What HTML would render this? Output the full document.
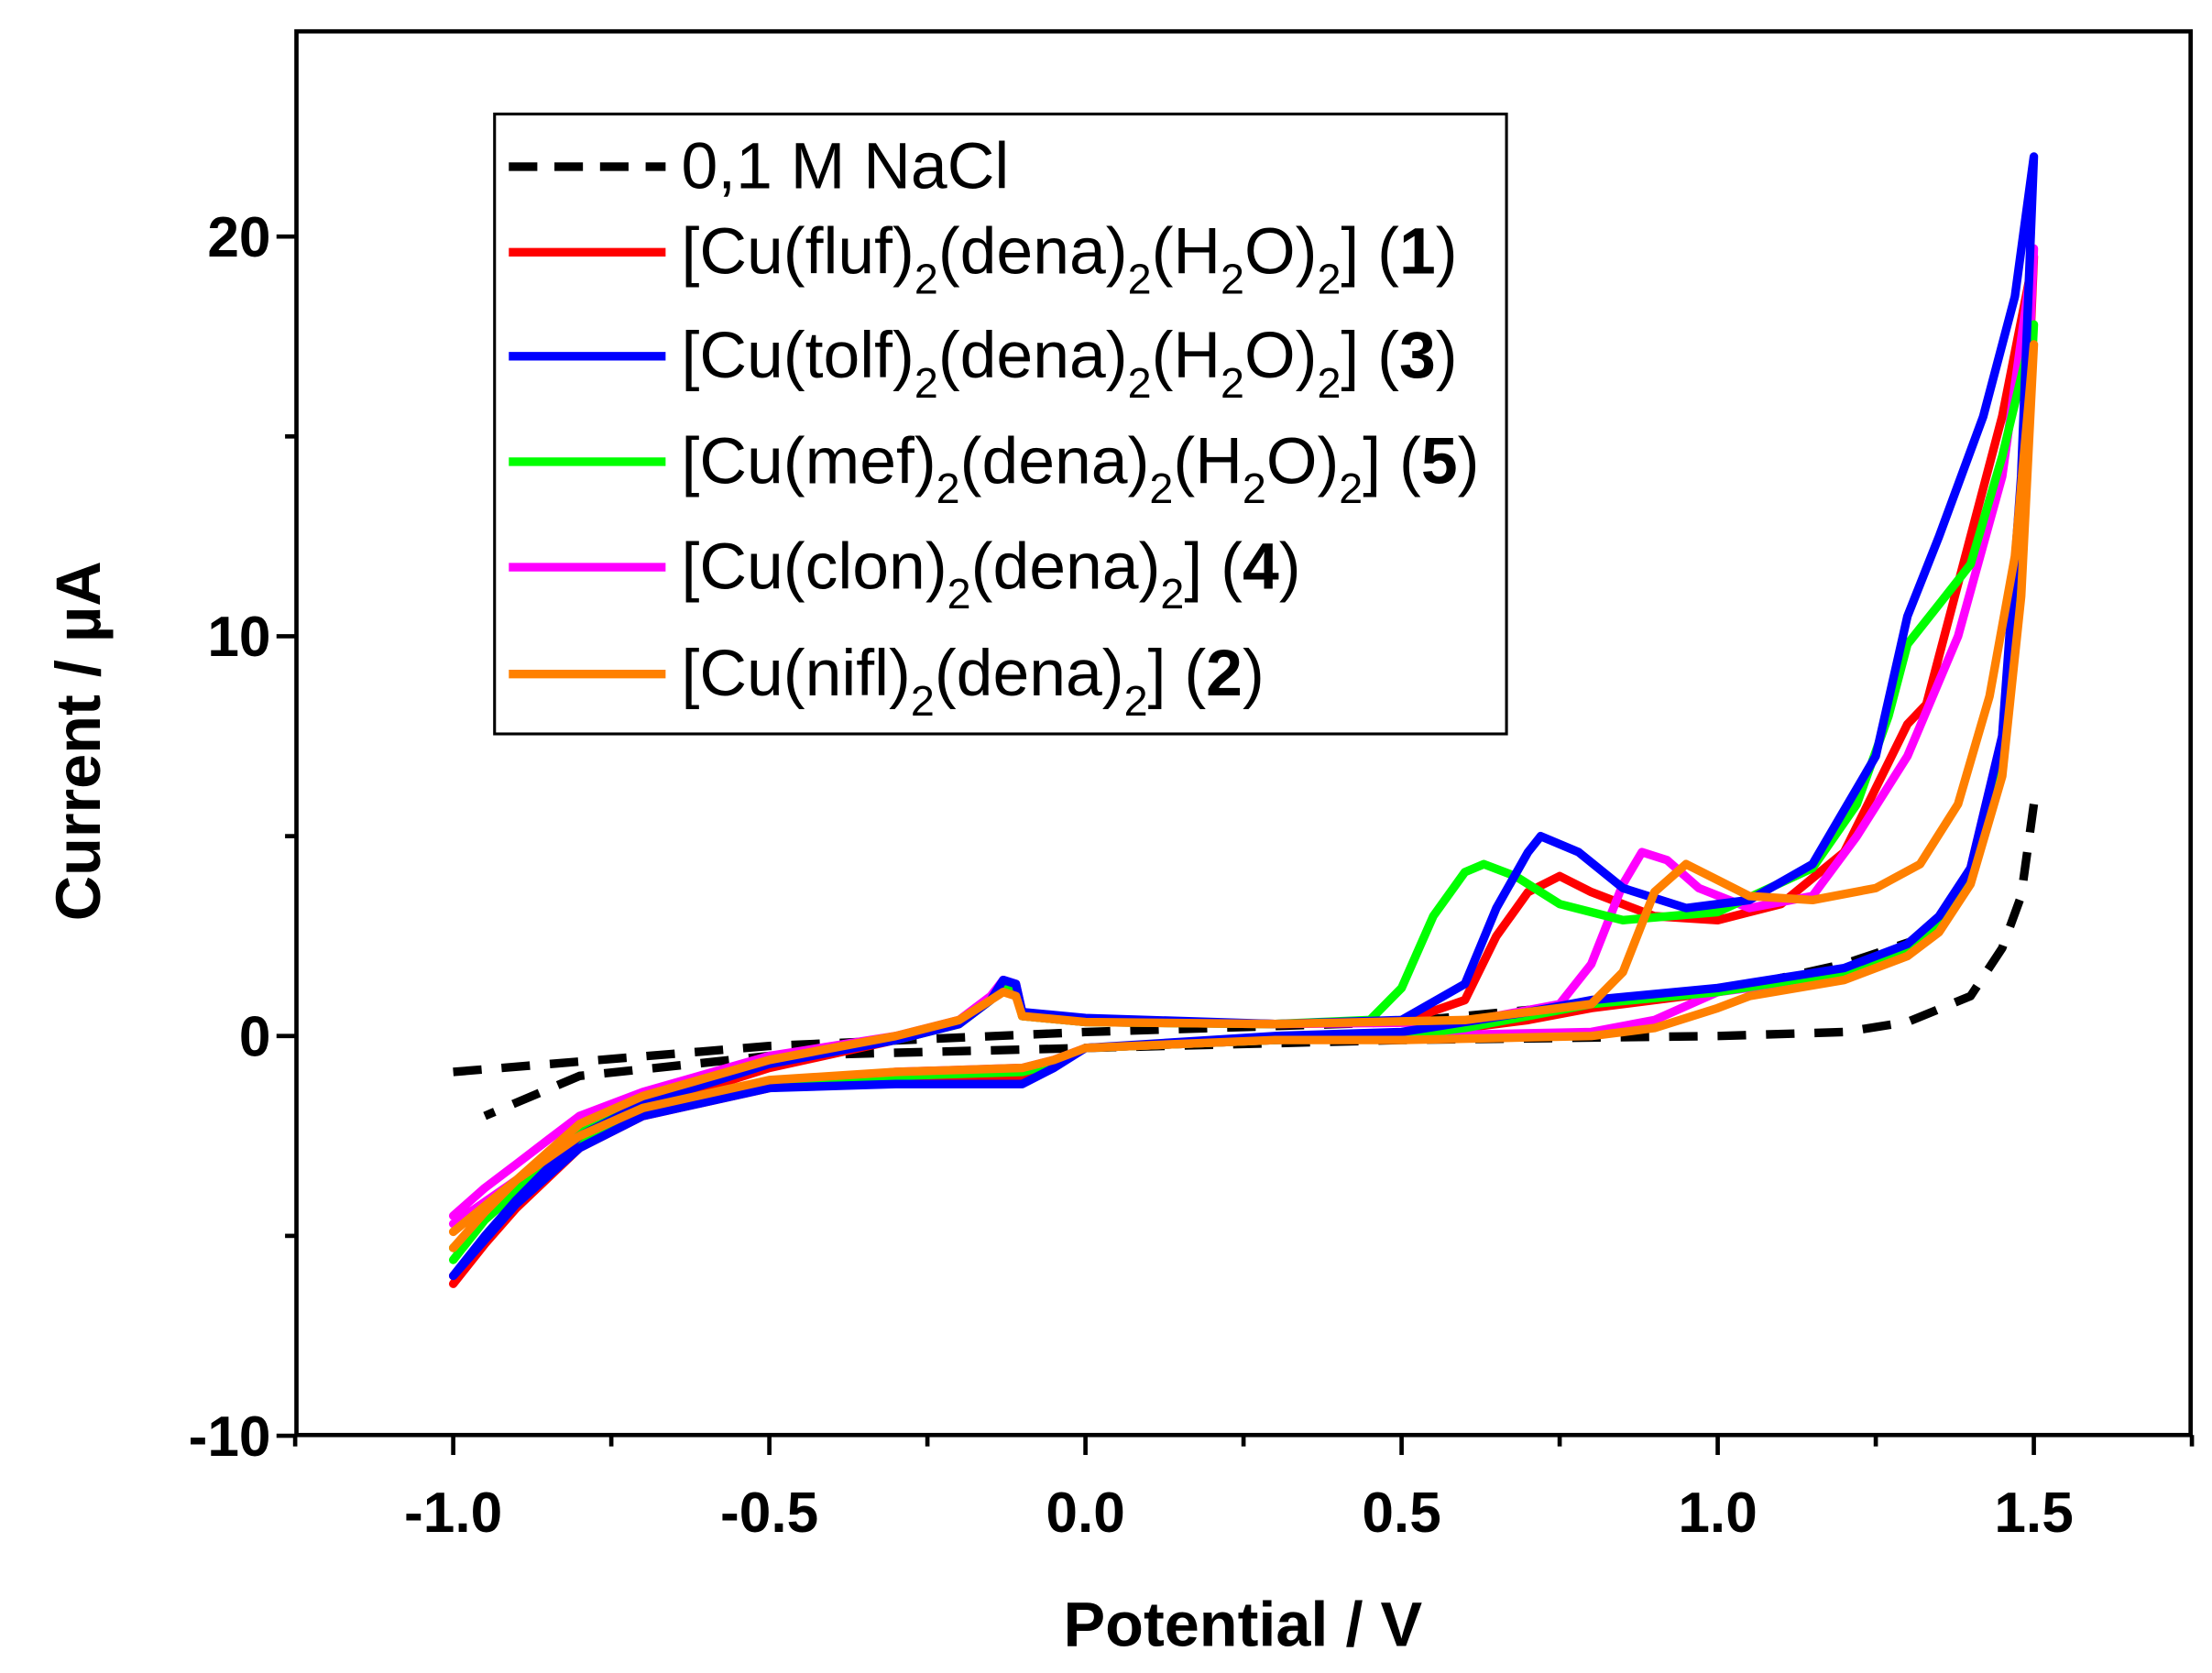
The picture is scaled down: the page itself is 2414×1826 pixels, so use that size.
<!DOCTYPE html>
<html><head><meta charset="utf-8"><style>
html,body{margin:0;padding:0;background:#fff;}
svg{display:block;font-family:"Liberation Sans",Arial,sans-serif;}
</style></head><body>
<svg id="chart" width="2414" height="1826" viewBox="0 0 1552 1174" preserveAspectRatio="none" xmlns="http://www.w3.org/2000/svg">
<rect x="208" y="22" width="1329" height="985" fill="none" stroke="#000" stroke-width="3"/>
<g id="ticks"></g>
<g id="series"></g>
<text x="872" y="1155" font-size="44" font-weight="bold" text-anchor="middle">Potential / V</text>
<text transform="translate(70,520) rotate(-90)" font-size="44" font-weight="bold" text-anchor="middle">Current / µA</text>
<g>
<rect x="347" y="80" width="710" height="435" fill="#fff" stroke="#000" stroke-width="2"/>
<line x1="357" y1="117" x2="467" y2="117" stroke="#000" stroke-width="6" stroke-dasharray="20,12"/>
<text x="478" y="132" font-size="46">0,1 M NaCl</text>
<line x1="357" y1="177" x2="467" y2="177" stroke="#ff0000" stroke-width="6"/>
<text x="478" y="192" font-size="46">[Cu(fluf)<tspan font-size="30" dy="14">2</tspan><tspan dy="-14">(dena)</tspan><tspan font-size="30" dy="14">2</tspan><tspan dy="-14">(H</tspan><tspan font-size="30" dy="14">2</tspan><tspan dy="-14">O)</tspan><tspan font-size="30" dy="14">2</tspan><tspan dy="-14">] (</tspan><tspan font-weight="bold">1</tspan>)</text>
<line x1="357" y1="250" x2="467" y2="250" stroke="#0000ff" stroke-width="6"/>
<text x="478" y="265" font-size="46">[Cu(tolf)<tspan font-size="30" dy="14">2</tspan><tspan dy="-14">(dena)</tspan><tspan font-size="30" dy="14">2</tspan><tspan dy="-14">(H</tspan><tspan font-size="30" dy="14">2</tspan><tspan dy="-14">O)</tspan><tspan font-size="30" dy="14">2</tspan><tspan dy="-14">] (</tspan><tspan font-weight="bold">3</tspan>)</text>
<line x1="357" y1="324" x2="467" y2="324" stroke="#00ff00" stroke-width="6"/>
<text x="478" y="339" font-size="46">[Cu(mef)<tspan font-size="30" dy="14">2</tspan><tspan dy="-14">(dena)</tspan><tspan font-size="30" dy="14">2</tspan><tspan dy="-14">(H</tspan><tspan font-size="30" dy="14">2</tspan><tspan dy="-14">O)</tspan><tspan font-size="30" dy="14">2</tspan><tspan dy="-14">] (</tspan><tspan font-weight="bold">5</tspan>)</text>
<line x1="357" y1="398" x2="467" y2="398" stroke="#ff00ff" stroke-width="6"/>
<text x="478" y="413" font-size="46">[Cu(clon)<tspan font-size="30" dy="14">2</tspan><tspan dy="-14">(dena)</tspan><tspan font-size="30" dy="14">2</tspan><tspan dy="-14">] (</tspan><tspan font-weight="bold">4</tspan>)</text>
<line x1="357" y1="473" x2="467" y2="473" stroke="#ff8000" stroke-width="6"/>
<text x="478" y="488" font-size="46">[Cu(nifl)<tspan font-size="30" dy="14">2</tspan><tspan dy="-14">(dena)</tspan><tspan font-size="30" dy="14">2</tspan><tspan dy="-14">] (</tspan><tspan font-weight="bold">2</tspan>)</text>
</g>
</svg>
<script>
const xTicks=[-1.0,-0.5,0.0,0.5,1.0,1.5];
const xTickLabels=["-1.0","-0.5","0.0","0.5","1.0","1.5"];
const yTicks=[-10,0,10,20];
const yTickLabels=["-10","0","10","20"];
const naclUpperE=[-1.0,-0.5,0.0,0.5,1.0,1.2,1.35];
const naclUpperI=[-0.9,-0.25,0.1,0.35,1.1,1.8,2.6];
const naclLowerE=[1.5,1.48,1.45,1.4,1.3,1.2,1.0,0.5,0.0,-0.5,-0.8,-0.95];
const naclLowerI=[5.8,3.5,2.2,1.0,0.35,0.1,0,-0.1,-0.3,-0.5,-1.0,-2.0];
const redE=[-1.0,-0.95,-0.9,-0.85,-0.8,-0.7,-0.5,-0.3,-0.2,-0.15,-0.13,-0.11,-0.1,0,0.3,0.5,0.6,0.65,0.7,0.75,0.8,0.9,1.0,1.1,1.2,1.3,1.33,1.4,1.45,1.5,1.48,1.45,1.4,1.35,1.3,1.2,1.0,0.8,0.7,0.5,0.3,0,-0.05,-0.1,-0.3,-0.5,-0.7,-0.8,-0.9,-1.0];
const redI=[-6.2,-5.2,-4.3,-3.5,-2.6,-1.8,-0.8,-0.1,0.3,0.9,1.3,1.2,0.5,0.35,0.3,0.35,0.9,2.5,3.6,4.0,3.6,3.0,2.9,3.3,4.6,7.8,8.3,12.5,15.5,19.5,12,7,4,2.8,2.2,1.6,1.1,0.7,0.4,0,-0.1,-0.3,-0.7,-1.0,-1.1,-1.3,-2.0,-2.8,-4.3,-6.0];
const blueE=[-1.0,-0.95,-0.9,-0.85,-0.8,-0.7,-0.5,-0.3,-0.2,-0.15,-0.13,-0.11,-0.1,0,0.3,0.5,0.6,0.65,0.7,0.72,0.78,0.85,0.95,1.05,1.15,1.25,1.3,1.35,1.42,1.47,1.5,1.48,1.45,1.4,1.35,1.3,1.2,1.0,0.8,0.7,0.5,0.3,0,-0.05,-0.1,-0.3,-0.5,-0.7,-0.8,-0.9,-1.0];
const blueI=[-6.0,-5.0,-4.1,-3.3,-2.5,-1.7,-0.7,-0.1,0.3,0.9,1.4,1.3,0.6,0.45,0.3,0.4,1.3,3.2,4.6,5.0,4.6,3.7,3.2,3.4,4.3,7.0,10.5,12.5,15.5,18.5,22,14,7.5,4.2,3,2.3,1.7,1.2,0.9,0.6,0.1,0,-0.3,-0.8,-1.2,-1.2,-1.3,-2.0,-2.8,-4.2,-6.0];
const greenE=[-1.0,-0.95,-0.9,-0.85,-0.8,-0.7,-0.5,-0.3,-0.2,-0.15,-0.13,-0.11,-0.1,0,0.3,0.45,0.5,0.55,0.6,0.63,0.68,0.75,0.85,1.0,1.15,1.22,1.27,1.3,1.35,1.4,1.45,1.5,1.48,1.45,1.4,1.35,1.3,1.2,1.0,0.8,0.6,0.5,0.3,0,-0.05,-0.1,-0.3,-0.5,-0.7,-0.8,-0.9,-1.0];
const greenI=[-5.6,-4.6,-3.8,-3.0,-2.3,-1.6,-0.6,-0.1,0.3,0.9,1.2,1.1,0.5,0.35,0.3,0.4,1.2,3.0,4.1,4.3,4.0,3.3,2.9,3.1,4.2,5.8,8.0,9.8,10.8,11.8,14.5,17.8,11.5,7,4,2.8,2.2,1.6,1.1,0.8,0.2,0,-0.1,-0.3,-0.7,-0.9,-1.0,-1.2,-1.9,-2.6,-3.9,-5.3];
const magentaE=[-1.0,-0.95,-0.9,-0.85,-0.8,-0.7,-0.5,-0.3,-0.2,-0.15,-0.13,-0.11,-0.1,0,0.3,0.6,0.75,0.8,0.85,0.88,0.92,0.97,1.05,1.15,1.22,1.3,1.38,1.45,1.5,1.48,1.45,1.4,1.35,1.3,1.2,1.0,0.9,0.8,0.5,0.3,0,-0.05,-0.1,-0.3,-0.5,-0.7,-0.8,-0.9,-1.0];
const magentaI=[-4.5,-3.8,-3.2,-2.6,-2.0,-1.4,-0.5,0,0.4,1.0,1.4,1.3,0.6,0.4,0.3,0.35,0.8,1.8,3.8,4.6,4.4,3.7,3.2,3.5,5.0,7.0,10,14,19.7,12.5,7.5,4.2,2.9,2.2,1.5,1.1,0.4,0.1,0,-0.1,-0.3,-0.6,-0.8,-0.9,-1.2,-1.8,-2.6,-3.6,-4.7];
const orangeE=[-1.0,-0.95,-0.9,-0.85,-0.8,-0.7,-0.5,-0.3,-0.2,-0.15,-0.13,-0.11,-0.1,0,0.3,0.6,0.8,0.85,0.9,0.95,1.0,1.05,1.15,1.25,1.32,1.38,1.43,1.47,1.5,1.48,1.45,1.4,1.35,1.3,1.2,1.05,1.0,0.9,0.8,0.5,0.3,0,-0.05,-0.1,-0.3,-0.5,-0.7,-0.8,-0.9,-1.0];
const orangeI=[-5.3,-4.4,-3.6,-2.9,-2.2,-1.5,-0.6,0,0.4,0.9,1.1,1.0,0.5,0.35,0.3,0.4,0.8,1.6,3.6,4.3,3.9,3.5,3.4,3.7,4.3,5.8,8.5,12,17.3,11,6.5,3.8,2.6,2.0,1.4,1.0,0.7,0.2,0,-0.1,-0.1,-0.3,-0.6,-0.8,-0.9,-1.1,-1.8,-2.5,-3.6,-4.9];

const NS="http://www.w3.org/2000/svg";
function xs(v){return 318+(v+1.0)*(1427-318)/2.5;}
function ys(v){return 727-v*(727-166)/20;}
const tg=document.getElementById('ticks');
const sg=document.getElementById('series');
function mk(tag,attrs,parent){const e=document.createElementNS(NS,tag);for(const k in attrs)e.setAttribute(k,attrs[k]);parent.appendChild(e);return e;}
xTicks.forEach((v,i)=>{
  const l=mk('line',{x1:xs(v),x2:xs(v),y1:1007,y2:1021,stroke:'#000','stroke-width':3},tg);
  
  
  const t=mk('text',{x:xs(v),y:1075,'font-size':40,'font-weight':'bold','text-anchor':'middle'},tg);
  
  
  t.textContent=xTickLabels[i];
});
for(let v=-1.25;v<=1.76;v+=0.5){
  const l=mk('line',{x1:xs(v),x2:xs(v),y1:1007,y2:1015,stroke:'#000','stroke-width':3},tg);
  
  
}
yTicks.forEach((v,i)=>{
  const l=mk('line',{x1:194,x2:208,y1:ys(v),y2:ys(v),stroke:'#000','stroke-width':3},tg);
  
  
  const t=mk('text',{x:190,y:ys(v)+14,'font-size':40,'font-weight':'bold','text-anchor':'end'},tg);
  
  
  t.textContent=yTickLabels[i];
});
[-5,5,15].forEach(v=>{
  const l=mk('line',{x1:200,x2:208,y1:ys(v),y2:ys(v),stroke:'#000','stroke-width':3},tg);
  
  
});
function path(E,I,color,name,dash){
  let d='';
  E.forEach((e,i)=>{d+=(i?'L':'M')+xs(e).toFixed(1)+','+ys(I[i]).toFixed(1);});
  const attrs={d:d,fill:'none',stroke:color,'stroke-width':6,'stroke-linejoin':'round','stroke-linecap':'round'};
  if(dash){attrs['stroke-dasharray']='20,14';attrs['stroke-linecap']='butt';}
  const p=mk('path',attrs,sg);
  
  
}
path(naclUpperE,naclUpperI,'#000','nacl-upper-branch',true);
path(naclLowerE,naclLowerI,'#000','nacl-lower-branch',true);
path(redE,redI,'#ff0000','series-fluf-1');
path(magentaE,magentaI,'#ff00ff','series-clon-4');
path(greenE,greenI,'#00ff00','series-mef-5');
path(blueE,blueI,'#0000ff','series-tolf-3');
path(orangeE,orangeI,'#ff8000','series-nifl-2');
</script>
</body></html>
